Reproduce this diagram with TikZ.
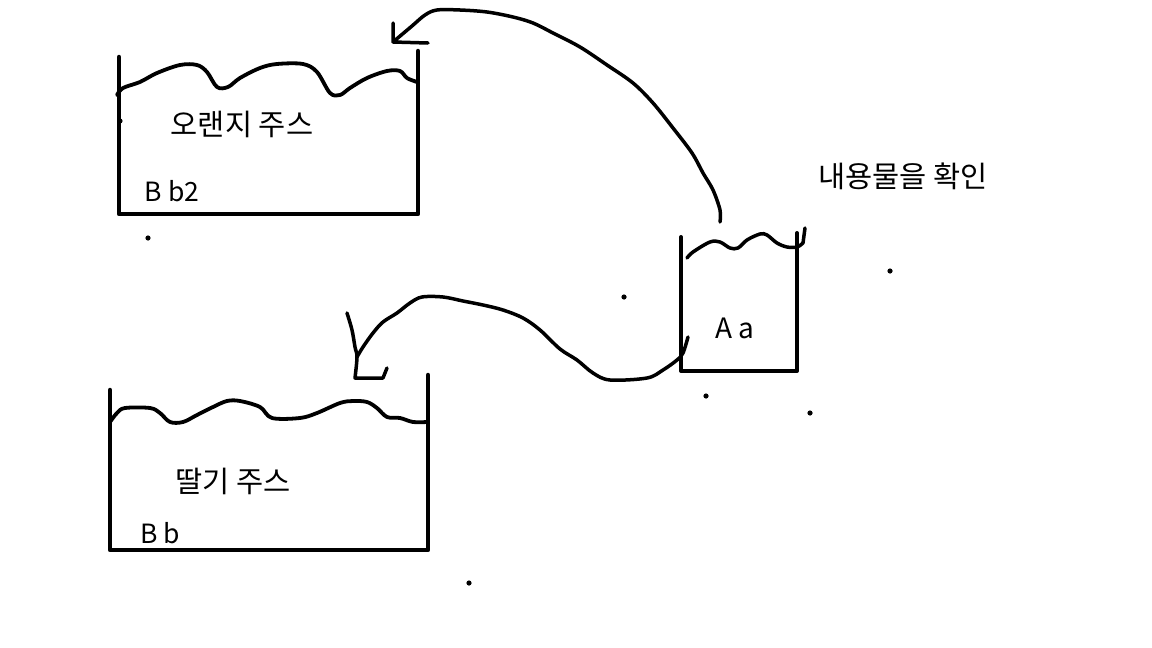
\documentclass[tikz,border=0pt]{standalone}
\usepackage{fontspec}
\setmainfont{Noto Sans CJK KR}
\usepackage{tikz}

\begin{document}
\begin{tikzpicture}[
    x=1pt, y=-1pt,
    node distance=52pt,
    wall/.style={line width=4.5pt, line cap=round, line join=round},
    liquid/.style={line width=3.8pt, line cap=round, line join=round},
    hand/.style={line width=3.5pt, line cap=round, line join=round},
    txt/.style={inner sep=0pt, font=\fontsize{26.5}{30}\selectfont},
    krtxt/.style={inner sep=0pt, font=\fontsize{29.5}{34}\selectfont}
]

\path[fill=white] (0,0) rectangle (1152,648);

% Nodes
\node (orange) [krtxt] at (242,124) {오랜지 주스};
\node (bb2) [txt, below of=orange, xshift=-70pt, yshift=-15pt] {B b2};

\node (strawberry) [krtxt] at (233,481) {딸기 주스};
\node (bb) [txt, below of=strawberry, xshift=-73pt] {B b};

\node (cupA) [txt, font=\fontsize{28}{32}\selectfont] at (735,328) {A a};
\node (check) [krtxt] at (903,176) {내용물을 확인};

% Containers
\draw [wall] (119,57) -- (119,214) -- (418,214) -- (418,51);
\draw [liquid] plot[smooth, tension=0.55] coordinates {(117,95) (123,88) (140,82) (157,73) (180,65) (197,65) (207,72) (217,87) (228,87) (240,78) (260,68) (277,64) (303,64) (317,72) (330,93) (340,95) (350,88) (367,78) (387,71) (400,71) (407,78) (417,82)};

\draw [wall] (110,390) -- (110,550) -- (428,550) -- (428,375);
\draw [liquid] plot[smooth, tension=0.55] coordinates {(110,422) (117,413) (125,408) (150,408) (160,413) (170,422) (183,422) (197,415) (213,407) (227,401) (240,401) (260,407) (272,418) (300,418) (317,413) (340,403) (353,401) (367,402) (377,408) (387,417) (400,418) (413,422) (427,422)};

\draw [wall, line width=4pt] (681,237) -- (681,371) -- (797,371) -- (797,233);
\draw [liquid, line width=3.5pt] plot[smooth, tension=0.55] coordinates {(687,258) (693,252) (710,242) (720,242) (730,248) (738,248) (747,240) (760,234) (767,235) (777,243) (787,247) (797,247) (803,243)} -- (805,228);

% Flow arrows
\coordinate (cupTop) at (720,222);
\coordinate (orangeTip) at (393,42);
\coordinate (cupSide) at (688,337);
\coordinate (berryTip) at (357,357);

\draw [hand] plot[smooth, tension=0.55] coordinates {(cupTop) (720,210) (713,190) (703,173) (692,153) (673,128) (653,103) (633,83) (607,65) (580,47) (553,33) (533,23) (513,17) (487,12) (460,10) (437,10) (425,15) (412,26) (orangeTip)}
    -- (428,43) (orangeTip) -- (393,23);

\draw [hand] plot[smooth, tension=0.55] coordinates {(cupSide) (683,353) (677,360) (663,370) (647,378) (610,380) (593,373) (577,360) (560,349) (540,330) (523,318) (503,310) (483,305) (463,301) (443,297) (422,297) (410,303) (397,313) (383,322) (373,333) (363,347) (berryTip)};
\draw [hand] plot[smooth, tension=0.55] coordinates {(347,313) (352,330) (355,347) (berryTip) (355,378)} -- (383,378) -- (387,368);

% Specks
\foreach \p in {(148,238), (624,297), (890,271), (706,396), (810,413), (469,583), (120,121)}
    \fill \p circle (2.6);

\end{tikzpicture}
\end{document}
